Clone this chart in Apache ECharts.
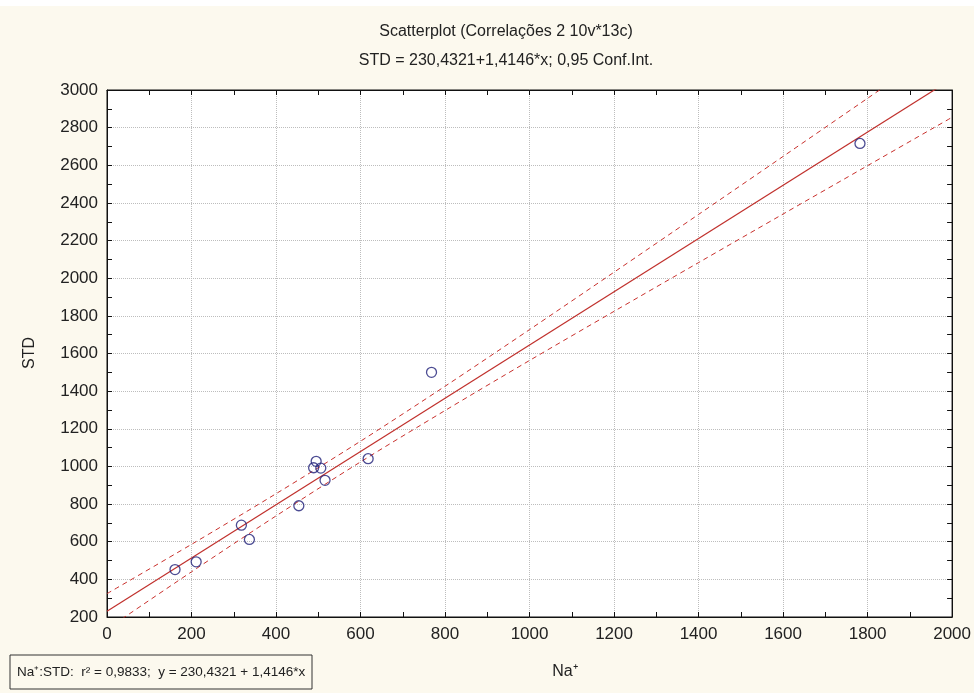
<!DOCTYPE html>
<html>
<head>
<meta charset="utf-8">
<script src="https://cdn.jsdelivr.net/npm/echarts@6/dist/echarts.min.js"></script>
<style>
html,body{margin:0;padding:0;background:#ffffff;}
#chart{position:absolute;left:0;top:6px;width:974px;height:687px;background:#fcf9ee;}
</style>
</head>
<body>
<div id="chart"></div>
<script>
// Data
var naValues  = [161, 211, 318, 337, 454, 489, 495, 506, 516, 618, 768, 1782];
var stdValues = [452, 493, 688, 612, 791, 993, 1027, 991, 926, 1041, 1500, 2716];

// Regression line (from equation in the chart)
var regX = [0, 2000];
var regY = [230.4, 3059.6];

// 95% confidence bands read at these x positions
var bandX     = [0, 200, 400, 600, 800, 1000, 1200, 1400, 1600, 1800, 2000];
var upperBand = [324, 586, 855, 1134, 1426, 1727, 2032, 2339, 2647, 2956, 3265];
var lowerBand = [136, 440, 737, 1024, 1297, 1563, 1824, 2083, 2341, 2598, 2855];

var titleText = 'Scatterplot (Correlações 2 10v*13c)';
var subtitleText = 'STD = 230,4321+1,4146*x; 0,95 Conf.Int.';
var legendText = 'Na\u207A:STD:  r\u00B2 = 0,9833;  y = 230,4321 + 1,4146*x';

function pairs(xs, ys){ var o=[]; for(var i=0;i<xs.length;i++){o.push([xs[i],ys[i]]);} return o; }
function plain(v){ return String(v); }

var FONT = '"Liberation Sans", Arial, sans-serif';
var chart = echarts.init(document.getElementById('chart'), null, {renderer:'canvas'});
var gridLine = {show:true, lineStyle:{color:'#bdbdbd', type:'dotted', width:1}};
var axLine = {show:true, onZero:false, lineStyle:{color:'#111', width:1}};
var tick = {show:true, inside:true, length:5, lineStyle:{color:'#111'}};
var minor = {show:true, splitNumber:2, length:5, lineStyle:{color:'#111'}};

var option = {
  backgroundColor: '#fcf9ee',
  animation: false,
  grid: {left:107, right:19, top:84, bottom:76, backgroundColor:'#ffffff', show:true, borderColor:'#111', borderWidth:1},
  xAxis: [
    {type:'value', min:0, max:2000, interval:200, position:'bottom',
     axisLine:axLine, splitLine:gridLine, axisTick:tick, minorTick:minor,
     axisLabel:{color:'#222', fontSize:17, fontFamily:FONT, margin:9, formatter:plain}},
    {type:'value', min:0, max:2000, interval:200, position:'top',
     axisLine:axLine, splitLine:{show:false}, axisTick:tick, minorTick:minor,
     axisLabel:{show:false}}
  ],
  yAxis: [
    {type:'value', min:200, max:3000, interval:200, position:'left',
     axisLine:axLine, splitLine:gridLine, axisTick:tick, minorTick:minor,
     axisLabel:{color:'#222', fontSize:17, fontFamily:FONT, margin:9, formatter:plain}},
    {type:'value', min:200, max:3000, interval:200, position:'right',
     axisLine:axLine, splitLine:{show:false}, axisTick:tick, minorTick:minor,
     axisLabel:{show:false}}
  ],
  series: [
    {type:'line', data:pairs(bandX, upperBand), symbol:'none', clip:true, smooth:0.3,
     lineStyle:{color:'#c8302c', width:1, type:[5,4]}, z:3},
    {type:'line', data:pairs(bandX, lowerBand), symbol:'none', clip:true, smooth:0.3,
     lineStyle:{color:'#c8302c', width:1, type:[5,4]}, z:3},
    {type:'line', data:pairs(regX, regY), symbol:'none', clip:true,
     lineStyle:{color:'#c0302c', width:1.2}, z:4},
    {type:'scatter', data:pairs(naValues, stdValues), symbol:'circle', symbolSize:10,
     itemStyle:{color:'rgba(0,0,0,0)', borderColor:'#1f1f78', borderWidth:1.3}, z:5}
  ],
  graphic: [
    {type:'text', x:506, y:26, style:{text:titleText, fill:'#222', font:'16px '+FONT, textAlign:'center', textVerticalAlign:'middle'}},
    {type:'text', x:506, y:55, style:{text:subtitleText, fill:'#222', font:'16px '+FONT, textAlign:'center', textVerticalAlign:'middle'}},
    {type:'text', x:30, y:347, rotation:Math.PI/2, style:{text:'STD', fill:'#222', font:'16px '+FONT, textAlign:'center', textVerticalAlign:'middle'}},
    {type:'text', x:565, y:666, style:{text:'Na\u207A', fill:'#222', font:'16px '+FONT, textAlign:'center', textVerticalAlign:'middle'}},
    {type:'rect', shape:{x:10, y:649, width:302, height:34}, style:{fill:'#fcf9ee', stroke:'#333', lineWidth:1}},
    {type:'text', x:17, y:666, style:{text:legendText, fill:'#222', font:'13.5px '+FONT, textAlign:'left', textVerticalAlign:'middle'}}
  ]
};
chart.setOption(option);
</script>
</body>
</html>
